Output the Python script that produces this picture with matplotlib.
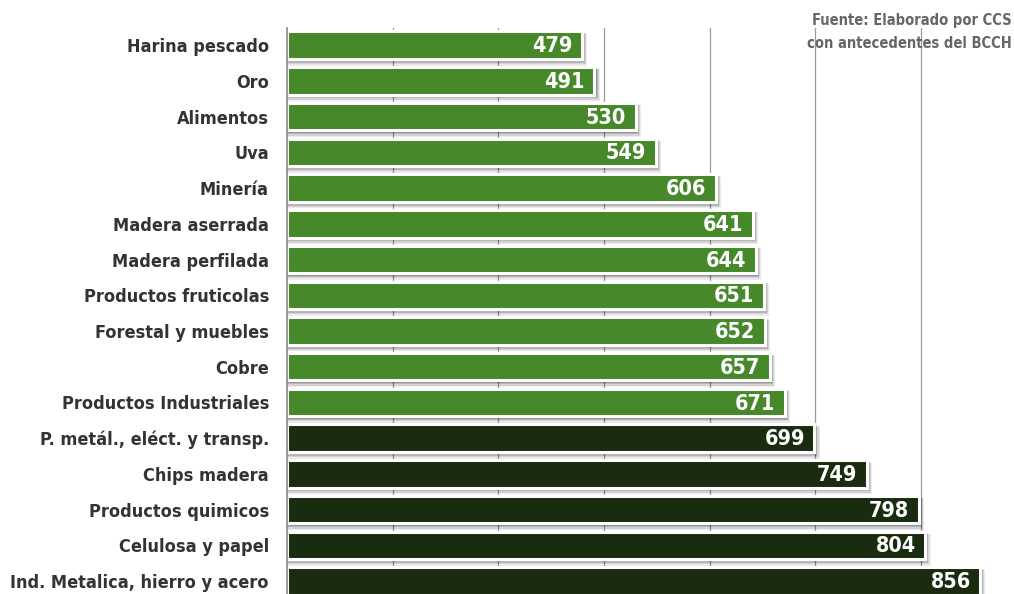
import matplotlib
matplotlib.use("Agg")
import numpy as np
from matplotlib import pyplot as plt
from matplotlib import font_manager

categories = ["Harina pescado", "Oro", "Alimentos", "Uva", "Minería",
              "Madera aserrada", "Madera perfilada", "Productos fruticolas",
              "Forestal y muebles", "Cobre", "Productos Industriales",
              "P. metál., eléct. y transp.", "Chips madera", "Productos quimicos",
              "Celulosa y papel", "Ind. Metalica, hierro y acero"]
values = [479, 491, 530, 549, 606, 641, 644, 651, 652, 657, 671,
          699, 749, 798, 804, 856]
group = ["light"] * 11 + ["dark"] * 5
colors = {"light": "#46882a", "dark": "#1a2c10"}

# look for a narrow bold font file, else plain DejaVu bold
bold_file = None
for f in font_manager.fontManager.ttflist:
    low = f.fname.lower()
    if ("condensed" in low or "narrow" in low) and "bold" in low and "oblique" not in low \
            and "italic" not in low:
        bold_file = f.fname
        break
if bold_file:
    def fp(size):
        return font_manager.FontProperties(fname=bold_file, size=size)
else:
    def fp(size):
        return font_manager.FontProperties(family="DejaVu Sans", weight="bold", size=size * 0.88)

W, H = 1014, 594
fig = plt.figure(figsize=(W / 100, H / 100), dpi=100)
ax = fig.add_axes([287 / W, 0, (W - 287) / W, (H - 28) / H])

xmin = 200
ax.set_xlim(xmin, 888)
ax.set_ylim(15.36, -0.48)

# gridlines behind the bars
for g in [300, 400, 500, 600, 700, 800]:
    ax.axvline(g, color="#999999", lw=0.9, zorder=0)

y = np.arange(len(values))
h = 0.77
# soft shadow
for k, a in enumerate([0.08, 0.10, 0.14, 0.18]):
    off = 5 - k
    ax.barh(y + off * 0.025, [v - xmin + off for v in values], left=xmin,
            height=h + 0.03 * (4 - k), color="#000000", alpha=a, lw=0, zorder=1)
ax.barh(y, [v - xmin for v in values], left=xmin, height=h,
        color=[colors[g] for g in group], edgecolor="white", lw=2.2, zorder=2)

for yi, v in zip(y, values):
    ax.text(v - 9, yi + 0.03, str(v), ha="right", va="center", color="white",
            fontproperties=fp(15.5), zorder=3)

ax.set_yticks(y)
ax.set_yticklabels(categories, color="#333333", fontproperties=fp(13))
ax.tick_params(axis="y", length=0, pad=13)
ax.set_xticks([])
for s in ["top", "right", "bottom"]:
    ax.spines[s].set_visible(False)
ax.spines["left"].set_color("#888888")
ax.spines["left"].set_linewidth(1.2)

fig.text(1012 / W, 1 - 20 / H, "Fuente: Elaborado por CCS", ha="right", va="center",
         color="#666666", fontproperties=fp(10.5))
fig.text(1012 / W, 1 - 44 / H, "con antecedentes del BCCH", ha="right", va="center",
         color="#666666", fontproperties=fp(10.5))

fig.savefig("out.png", dpi=100)
